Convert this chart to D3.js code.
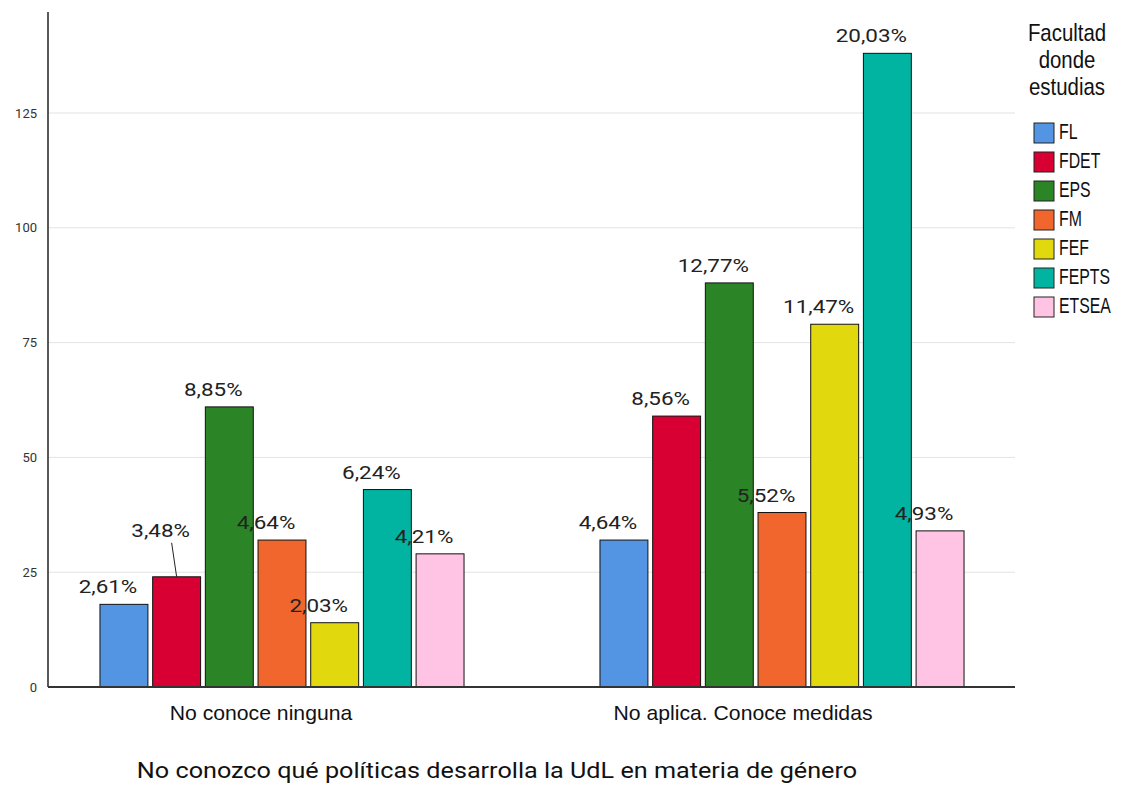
<html>
<head>
<meta charset="utf-8">
<title>UdL género</title>
<style>
  body { margin: 0; background: #fff; }
  text { font-family: Roboto, "Liberation Sans", sans-serif; }
  .arial { font-family: "Liberation Sans", Arial, sans-serif; }
</style>
</head>
<body>
<div id="chart"></div>
<script src="https://cdn.jsdelivr.net/npm/d3@7"></script>
<script>
(function(){
  "use strict";

  // Data
  var groups = ["No conoce ninguna", "No aplica. Conoce medidas"];
  var series = ["FL", "FDET", "EPS", "FM", "FEF", "FEPTS", "ETSEA"];
  var noConoce = [18, 24, 61, 32, 14, 43, 29];
  var noAplica = [32, 59, 88, 38, 79, 138, 34];
  var pctNoConoce = ["2,61%", "3,48%", "8,85%", "4,64%", "2,03%", "6,24%", "4,21%"];
  var pctNoAplica = ["4,64%", "8,56%", "12,77%", "5,52%", "11,47%", "20,03%", "4,93%"];
  var yTicks = [0, 25, 50, 75, 100, 125];
  var colors = ["#5395e3", "#d80032", "#2b8527", "#f0662c", "#e1d80e", "#00b4a1", "#ffc3e3"];
  var legendTitle = ["Facultad", "donde", "estudias"];
  var chartTitle = "No conozco qué políticas desarrolla la UdL en materia de género";

  var width = 1123, height = 785;
  var margin = { top: 12, left: 48, right: 108, bottom: 98 };

  var svg = d3.select("#chart").append("svg")
      .attr("width", width)
      .attr("height", height);

  // stretch / squeeze a text horizontally around its x anchor
  function stretch(sel, f) {
    sel.each(function(){
      var x = +d3.select(this).attr("x");
      d3.select(this).attr("transform",
        "translate(" + x + ",0) scale(" + f + ",1) translate(" + (-x) + ",0)");
    });
  }

  var rows = [];
  groups.forEach(function(g, gi){
    var vals = gi === 0 ? noConoce : noAplica;
    var pcts = gi === 0 ? pctNoConoce : pctNoAplica;
    series.forEach(function(s, si){
      rows.push({ group: g, serie: s, value: vals[si], pct: pcts[si], color: colors[si] });
    });
  });

  // Scales
  var y = d3.scaleLinear()
      .domain([0, 147])
      .range([height - margin.bottom, margin.top]);

  var x0 = d3.scaleBand()
      .domain(groups)
      .range([32, 1032]);

  var x1 = d3.scaleBand()
      .domain(series)
      .range([0, x0.bandwidth()])
      .paddingInner(0.09)
      .paddingOuter(1.29);

  // category label positions
  var xLab = d3.scaleBand()
      .domain(groups)
      .range([20, 984]);

  // Grid lines
  svg.append("g")
    .selectAll("line")
    .data(yTicks.filter(function(d){ return d > 0; }))
    .enter().append("line")
      .attr("x1", margin.left)
      .attr("x2", 1015)
      .attr("y1", function(d){ return y(d); })
      .attr("y2", function(d){ return y(d); })
      .style("stroke", "#e3e3e3")
      .style("stroke-width", 1);

  // Y axis
  var yAxis = d3.axisLeft(y)
      .tickValues(yTicks)
      .tickSize(0)
      .tickPadding(11);
  var yG = svg.append("g")
      .attr("transform", "translate(" + margin.left + ",0)")
      .call(yAxis);
  yG.select("path").remove();
  yG.selectAll("text")
      .style("font-family", "Roboto, sans-serif")
      .style("font-size", "13px")
      .style("fill", "#333")
      .attr("dy", "0.32em");

  svg.append("line")
      .attr("x1", margin.left).attr("x2", margin.left)
      .attr("y1", margin.top).attr("y2", y(0))
      .style("stroke", "#222").style("stroke-width", 1.5);

  // Bars
  svg.append("g")
    .selectAll("rect")
    .data(rows)
    .enter().append("rect")
      .attr("x", function(d){ return x0(d.group) + x1(d.serie); })
      .attr("y", function(d){ return y(d.value); })
      .attr("width", x1.bandwidth())
      .attr("height", function(d){ return y(0) - y(d.value); })
      .style("fill", function(d){ return d.color; })
      .style("stroke", "#111")
      .style("stroke-width", 1);

  // Baseline
  svg.append("line")
      .attr("x1", margin.left).attr("x2", 1015)
      .attr("y1", y(0)).attr("y2", y(0))
      .style("stroke", "#333").style("stroke-width", 2);

  // Value labels (one label is pushed up with a leader line)
  var lift = { "No conoce ninguna|FDET": 29 };
  var lab = svg.append("g");
  rows.forEach(function(d){
    var cx = x0(d.group) + x1(d.serie) + x1.bandwidth() / 2;
    var up = lift[d.group + "|" + d.serie] || 0;
    var ty = y(d.value) - 11 - up;
    lab.append("text")
        .attr("x", cx - 16)
        .attr("y", ty)
        .attr("text-anchor", "middle")
        .style("font-size", "19px")
        .style("fill", "#222")
        .text(d.pct)
        .call(stretch, 1.18);
    if (up) {
      lab.append("line")
          .attr("x1", cx - 5).attr("y1", ty + 6)
          .attr("x2", cx).attr("y2", y(d.value))
          .style("stroke", "#222").style("stroke-width", 1);
    }
  });

  // Category labels
  svg.append("g")
    .selectAll("text")
    .data(groups)
    .enter().append("text")
      .attr("class", "arial")
      .attr("x", function(d){ return xLab(d) + xLab.bandwidth() / 2; })
      .attr("y", 720)
      .attr("text-anchor", "middle")
      .style("font-size", "20px")
      .style("fill", "#111")
      .text(function(d){ return d; })
      .call(stretch, 1.06);

  // Title
  svg.append("text")
      .attr("x", 497)
      .attr("y", 778)
      .attr("text-anchor", "middle")
      .style("font-size", "22.5px")
      .style("fill", "#111")
      .text(chartTitle)
      .call(stretch, 1.12);

  // Legend
  var lg = svg.append("g").attr("transform", "translate(1034,0)");
  lg.selectAll("text.title")
    .data(legendTitle)
    .enter().append("text")
      .attr("class", "arial title")
      .attr("x", 33)
      .attr("y", function(d, i){ return 41 + i * 27; })
      .attr("text-anchor", "middle")
      .style("font-size", "24px")
      .style("fill", "#111")
      .text(function(d){ return d; })
      .call(stretch, 0.85);

  var item = lg.selectAll("g.item")
    .data(series)
    .enter().append("g")
      .attr("class", "item")
      .attr("transform", function(d, i){ return "translate(0," + (123 + i * 29) + ")"; });
  item.append("rect")
      .attr("width", 20).attr("height", 20)
      .style("fill", function(d, i){ return colors[i]; })
      .style("stroke", "#222").style("stroke-width", 1);
  item.append("text")
      .attr("class", "arial")
      .attr("x", 25)
      .attr("y", 16)
      .style("font-size", "22px")
      .style("fill", "#111")
      .text(function(d){ return d; })
      .call(stretch, 0.72);
})();
</script>
</body>
</html>
